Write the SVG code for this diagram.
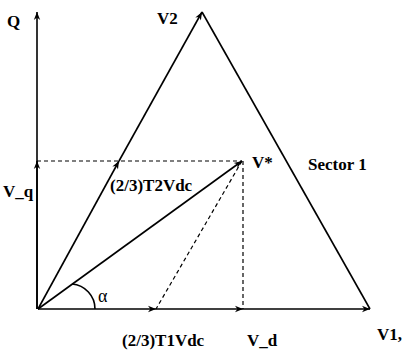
<svg xmlns="http://www.w3.org/2000/svg" width="404" height="351" viewBox="0 0 404 351">
<defs>
<marker id="ah" viewBox="0 0 10 10" refX="10" refY="5" markerWidth="10" markerHeight="8" markerUnits="userSpaceOnUse" orient="auto">
<path d="M0,1 L10,5 L0,9 L3,5 Z" fill="#000"/>
</marker>
<style>
.ln{stroke:#000;stroke-width:1.6;fill:none}
.ds{stroke:#000;stroke-width:1.2;fill:none;stroke-dasharray:4 3}
.t{font-family:"Liberation Serif","Times New Roman",serif;font-weight:bold;font-size:17px;fill:#000}
.g{font-family:"Liberation Serif","Times New Roman",serif;font-size:18px;fill:#000}
</style>
</defs>
<rect width="404" height="351" fill="#fff"/>
<g id="connectors">
<line class="ln" x1="37" y1="309" x2="37" y2="12" marker-end="url(#ah)"/>
<line class="ln" x1="37" y1="309" x2="37" y2="161" marker-end="url(#ah)"/>
<line class="ln" x1="38" y1="309" x2="119" y2="161" marker-end="url(#ah)"/>
<line class="ln" x1="119" y1="161" x2="202" y2="12" marker-end="url(#ah)"/>
<line class="ln" x1="202" y1="12" x2="370" y2="309"/>
<line class="ln" x1="38" y1="309" x2="242" y2="161" marker-end="url(#ah)"/>
<line class="ln" x1="38" y1="309" x2="156" y2="309" marker-end="url(#ah)"/>
<line class="ln" x1="156" y1="309" x2="243" y2="309" marker-end="url(#ah)"/>
<line class="ln" x1="243" y1="309" x2="370" y2="309" marker-end="url(#ah)"/>
<line class="ds" x1="37" y1="161" x2="242" y2="161"/>
<line class="ds" x1="243" y1="161" x2="243" y2="309"/>
<line class="ds" x1="242" y1="161" x2="156" y2="309"/>
<path class="ln" d="M72,284 A25 25 0 0 1 95,309"/>
</g>
<g id="labels">
<text class="t" x="7" y="27">Q</text>
<text class="t" x="157" y="24" font-size="18">V2</text>
<text class="t" x="3" y="197" font-size="18">V_q</text>
<text class="t" x="110" y="191" font-size="18">(2/3)T2Vdc</text>
<text class="t" x="252" y="168">V*</text>
<text class="t" x="308" y="170" font-size="19">Sector 1</text>
<text class="g" x="98" y="302">α</text>
<text class="t" x="122" y="346">(2/3)T1Vdc</text>
<text class="t" x="247" y="346" font-size="16">V_d</text>
<text class="t" x="377" y="340">V1,</text>
</g>
</svg>
